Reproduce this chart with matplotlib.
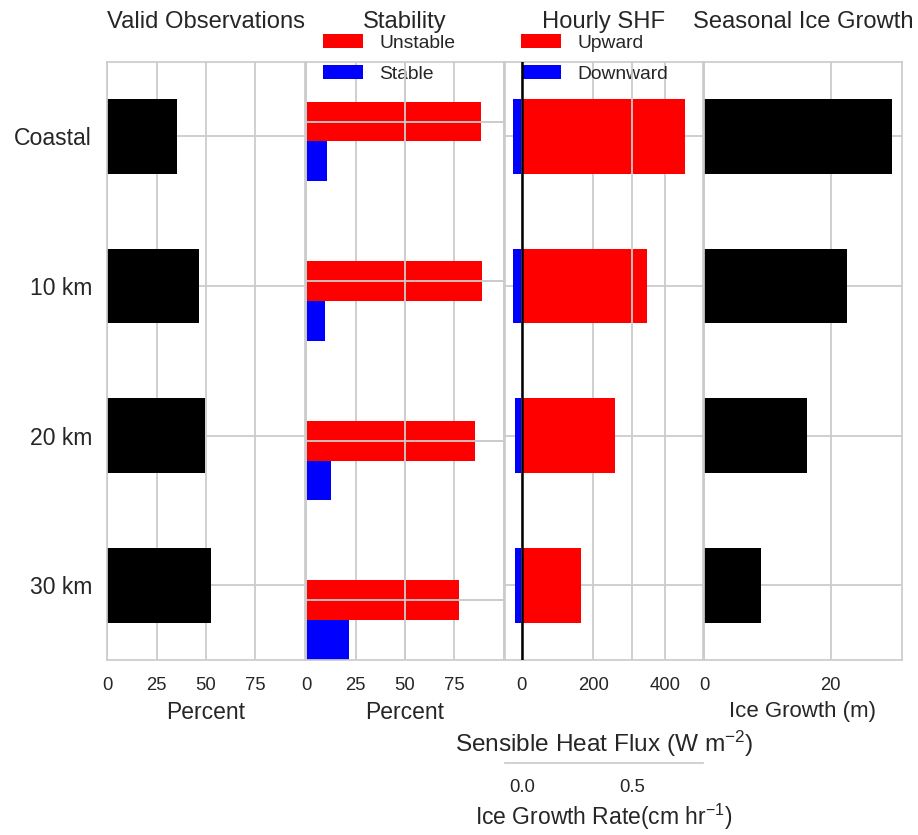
import matplotlib
matplotlib.use("Agg")
import matplotlib.pyplot as plt
import numpy as np

sites = ["Coastal", "10 km", "20 km", "30 km"]
valid_pct = [35.3, 46.5, 49.5, 52.4]
unstable_pct = [88.7, 89.0, 85.7, 77.6]
stable_pct = [10.5, 9.7, 12.7, 21.8]
shf_up = [457, 350, 261, 166]
shf_down = [-24.6, -24.6, -18, -18]
ice_growth = [29.7, 22.6, 16.3, 9.0]

shf_per_rate = 618.0   # W m-2 for 1 cm hr-1 of ice growth
shf_lim = (-46, 505)

plt.rcParams.update({
    "font.family": ["Liberation Sans", "DejaVu Sans"],
    "text.color": ".15",
    "axes.labelcolor": ".15",
    "xtick.color": ".15",
    "ytick.color": ".15",
    "axes.edgecolor": ".8",
    "axes.linewidth": 1.25,
    "axes.grid": True,
    "axes.axisbelow": True,
    "grid.color": ".8",
    "grid.linewidth": 1.3,
    "xtick.major.size": 0,
    "ytick.major.size": 0,
    "xtick.major.pad": 12,
    "ytick.major.pad": 11,
    "xtick.labelsize": 13.3,
    "ytick.labelsize": 16.6,
    "axes.labelsize": 16.5,
    "axes.titlesize": 17.1,
    "legend.fontsize": 13.9,
    "patch.edgecolor": "white",
    "patch.linewidth": 0.4,
    "mathtext.default": "regular",
})

W, H = 918.0, 835.0
fig = plt.figure(figsize=(W / 100, H / 100), dpi=100)


def box(x0):
    return [x0 / W, 1 - 660 / H, 197.3 / W, (660 - 61.7) / H]


y = np.arange(len(sites))
leg_kw = dict(bbox_transform=fig.transFigure, frameon=False, borderpad=0,
              borderaxespad=0, handlelength=2.07, handletextpad=0.85,
              labelspacing=0.72, loc="upper left")

# valid observations
ax1 = fig.add_axes(box(107.3))
ax1.barh(y, valid_pct, height=0.5, color="black")
ax1.set_xlim(0, 100)
ax1.set_xticks([0, 25, 50, 75])
ax1.set_ylim(3.5, -0.5)
ax1.set_yticks(y)
ax1.set_yticklabels(sites)
ax1.set_xlabel("Percent", labelpad=5.5)
ax1.set_title("Valid Observations", pad=24.5)

# stability
ax2 = fig.add_axes(box(306.3))
ax2.barh(y, unstable_pct, height=0.25, color="red", label="Unstable")
ax2.barh(y + 0.25, stable_pct, height=0.25, color="blue", label="Stable")
ax2.set_xlim(0, 100)
ax2.set_xticks([0, 25, 50, 75])
ax2.set_ylim(3.375, -0.375)
ax2.set_yticks(y)
ax2.set_yticklabels([])
ax2.set_xlabel("Percent", labelpad=5.5)
ax2.set_title("Stability", pad=24.5)
ax2.legend(bbox_to_anchor=(322.7 / W, 1 - 34 / H), **leg_kw)

# grid overlay on top of the stability bars
ax2g = fig.add_axes(box(306.3))
ax2g.patch.set_visible(False)
ax2g.set_xlim(0, 100)
ax2g.set_xticks([0, 50, 100])
ax2g.set_ylim(3.375, -0.375)
ax2g.set_yticks(y)
ax2g.set_xticklabels([])
ax2g.set_yticklabels([])
for s in ax2g.spines.values():
    s.set_visible(False)

# hourly sensible heat flux
ax3 = fig.add_axes(box(505.3))
ax3.barh(y, shf_up, height=0.5, color="red", label="Upward")
ax3.barh(y, shf_down, height=0.5, color="blue", label="Downward")
ax3.set_xlim(*shf_lim)
ax3.set_xticks([0, 200, 400])
ax3.set_ylim(3.5, -0.5)
ax3.set_yticks(y)
ax3.set_yticklabels([])
ax3.set_xlabel("Sensible Heat Flux (W m$^{-2}$)", labelpad=25, fontsize=17.6)
ax3.set_title("Hourly SHF", pad=24.5)
ax3.legend(bbox_to_anchor=(521 / W, 1 - 34 / H), **leg_kw)

ax3t = ax3.twiny()
ax3t.set_xlim(shf_lim[0] / shf_per_rate, shf_lim[1] / shf_per_rate)
ax3t.set_xticks([0.0, 0.5])
ax3t.set_xticklabels(["0.0", "0.5"])
ax3t.xaxis.set_ticks_position("bottom")
ax3t.xaxis.set_label_position("bottom")
ax3t.spines["bottom"].set_position(("outward", 74))
for side in ["top", "left", "right"]:
    ax3t.spines[side].set_visible(False)
ax3t.set_xlabel("Ice Growth Rate(cm hr$^{-1}$)", labelpad=4)
ax3t.axvline(0, color="black", lw=1.8)

# seasonal ice growth
ax4 = fig.add_axes(box(704.3))
ax4.barh(y, ice_growth, height=0.5, color="black")
ax4.set_xticks([0, 20])
ax4.set_ylim(3.5, -0.5)
ax4.set_yticks(y)
ax4.set_yticklabels([])
ax4.set_xlabel("Ice Growth (m)", labelpad=5.5, fontsize=16)
ax4.set_title("Seasonal Ice Growth", pad=24.5)

fig.savefig("out.png", dpi=100)
